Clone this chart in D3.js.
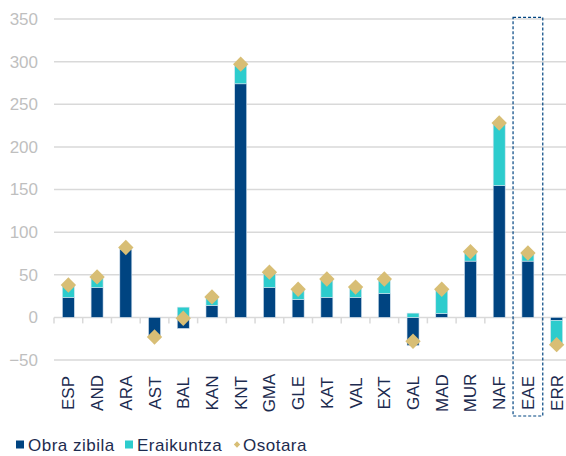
<!DOCTYPE html>
<html>
<head>
<meta charset="utf-8">
<script src="https://cdn.jsdelivr.net/npm/d3@7"></script>
<style>
  body { margin: 0; background: #fff; }
  svg { display: block; font-family: "Liberation Sans", Arial, sans-serif; }
</style>
</head>
<body>
<div class="chart"></div>
<script>
// data
let categories = ['ESP', 'AND', 'ARA', 'AST', 'BAL', 'KAN', 'KNT', 'GMA', 'GLE', 'KAT', 'VAL', 'EXT', 'GAL', 'MAD', 'MUR', 'NAF', 'EAE', 'ERR'];
let obraZibila = [23.5, 35, 80, -23, -13, 14, 274, 35, 21, 23.5, 23.5, 28, -33, 4.5, 66, 154.5, 66, -3.5];
let eraikuntza = [14.5, 12.5, 2, 0, 12, 10, 23, 18, 12, 21.5, 12, 17, 5, 28.5, 11, 73.5, 9.5, -28.5];
let osotara = [38, 47.5, 82, -23, -1, 24, 297, 53, 33, 45, 35.5, 45, -28, 33, 77, 228, 75.5, -32];
let yTicks = [-50, 0, 50, 100, 150, 200, 250, 300, 350];
let seriesNames = ['Obra zibila', 'Eraikuntza', 'Osotara'];
let highlight = 'EAE';

let colors = {obra: '#004481', erai: '#2dcccd', total: '#d8be75', grid: '#d9d9d9', axisText: '#bfbfbf', text: '#1d2b4f'};

function drawChart() {
    let svg = d3.select('.chart')
        .append('svg')
        .attr('width', 566)
        .attr('height', 456);

    let x = d3.scaleBand().domain(categories).range([54, 571]).paddingInner(0).paddingOuter(0);
    let y = d3.scaleLinear().domain([-50, 350]).range([360, 19]);
    let barW = 12;

    // gridlines
    svg.append('g')
        .selectAll('line')
        .data(yTicks)
        .enter().append('line')
        .attr('x1', 54)
        .attr('x2', 566)
        .attr('y1', d => y(d))
        .attr('y2', d => y(d))
        .attr('stroke', colors.grid)
        .attr('stroke-width', 1.5);

    // y axis labels
    let yAxis = svg.append('g')
        .attr('transform', 'translate(38,0)')
        .call(d3.axisLeft(y).tickValues(yTicks).tickSize(0).tickPadding(0));
    yAxis.select('.domain').remove();
    yAxis.selectAll('text')
        .attr('fill', colors.axisText)
        .style('font-size', '17px')
        .style('font-family', '"Liberation Sans", Arial, sans-serif');

    // category tick marks on the zero line
    let xAxis = svg.append('g')
        .attr('transform', 'translate(0,' + y(0) + ')');
    xAxis.selectAll('line')
        .data(categories)
        .enter().append('line')
        .attr('x1', d => x(d))
        .attr('x2', d => x(d))
        .attr('y1', 0)
        .attr('y2', 6)
        .attr('stroke', colors.grid)
        .attr('stroke-width', 1.5);

    // stacked bars
    let rows = categories.map((c, i) => ({cat: c, obra: obraZibila[i], erai: eraikuntza[i]}));
    let stack = d3.stack().keys(['obra', 'erai']).offset(d3.stackOffsetDiverging);
    let layers = stack(rows);

    svg.append('g')
        .selectAll('g')
        .data(layers)
        .enter().append('g')
        .attr('fill', d => colors[d.key])
        .selectAll('rect')
        .data(d => d)
        .enter().append('rect')
        .attr('x', d => x(d.data.cat) + x.bandwidth() / 2 - barW / 2)
        .attr('width', barW)
        .attr('y', d => y(Math.max(d[0], d[1])))
        .attr('height', d => Math.abs(y(d[0]) - y(d[1])))
        .attr('stroke', '#d5e3ee')
        .attr('stroke-width', 0.6);

    // total markers (diamonds)
    svg.append('g')
        .selectAll('path')
        .data(osotara)
        .enter().append('path')
        .attr('d', d3.symbol().type(d3.symbolSquare).size(118))
        .attr('transform', (d, i) => 'translate(' + (x(categories[i]) + x.bandwidth() / 2) + ',' + y(d) + ') rotate(45)')
        .attr('fill', colors.total);

    // category labels
    svg.append('g')
        .selectAll('text')
        .data(categories)
        .enter().append('text')
        .attr('transform', d => 'translate(' + (x(d) + x.bandwidth() / 2 + 6) + ',393) rotate(-90)')
        .attr('text-anchor', 'middle')
        .attr('fill', colors.text)
        .style('font-size', '17px')
        .text(d => d);

    // highlight box around EAE
    svg.append('rect')
        .attr('x', x(highlight) - 0.5)
        .attr('y', y(352))
        .attr('width', x.bandwidth() + 1)
        .attr('height', 416 - y(352))
        .attr('fill', 'none')
        .attr('stroke', colors.obra)
        .attr('stroke-width', 1.2)
        .attr('stroke-dasharray', '3,2');

    // legend
    let legend = svg.append('g').attr('class', 'legend');
    let items = [
        {name: seriesNames[0], color: colors.obra, x: 16, shape: 'square'},
        {name: seriesNames[1], color: colors.erai, x: 125, shape: 'square'},
        {name: seriesNames[2], color: colors.total, x: 234, shape: 'diamond'}
    ];
    items.forEach(it => {
        if (it.shape === 'square') {
            legend.append('rect')
                .attr('x', it.x)
                .attr('y', 440.5)
                .attr('width', 8)
                .attr('height', 8)
                .attr('fill', it.color);
        } else {
            legend.append('path')
                .attr('d', d3.symbol().type(d3.symbolSquare).size(20))
                .attr('transform', 'translate(' + (it.x + 3) + ',444.5) rotate(45)')
                .attr('fill', it.color);
        }
        legend.append('text')
            .attr('x', it.x + (it.shape === 'square' ? 12 : 9))
            .attr('y', 451)
            .attr('fill', colors.text)
            .style('font-size', '17px')
            .style('letter-spacing', '0.5px')
            .text(it.name);
    });
}

drawChart();
</script>
</body>
</html>
